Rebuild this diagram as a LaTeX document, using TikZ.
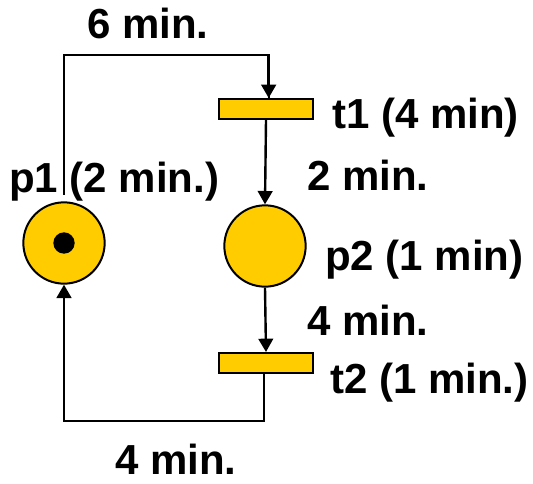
\documentclass[tikz,border=0pt]{standalone}
\usepackage{fontspec}
\setmainfont{Liberation Sans}
\usepackage{tikz}
\usetikzlibrary{arrows.meta, positioning}
\definecolor{amber}{RGB}{255,204,0}

\begin{document}
\begin{tikzpicture}[
    x=0.75pt, y=-0.75pt,
    font=\fontsize{31.5}{36}\selectfont\bfseries,
    place/.style={circle, draw=black, line width=1.5pt, fill=amber,
                  minimum size=61pt, inner sep=0pt},
    trans/.style={rectangle, draw=black, line width=1.5pt, fill=amber,
                  minimum width=70pt, minimum height=15pt, inner sep=0pt},
    token/.style={circle, fill=black, minimum size=16pt, inner sep=0pt},
    lbl/.style={anchor=base west, inner sep=0pt, text depth=0pt},
    arr/.style={-{Triangle[length=10pt, width=11pt]}, line width=1.8pt},
    wire/.style={line width=1.5pt}
  ]
    \useasboundingbox (0,0) rectangle (533,483);

    % Places and transitions
    \node[place] (p1) at (64,243) {};
    \node[token] (tok) at (64,243) {};
    \node[place] (p2) at (265,246) {};
    \node[trans] (t1) at (266,109) {};
    \node[trans] (t2) at (266,363) {};

    % Arcs
    \coordinate (top) at (160,55);
    \coordinate (bot) at (160,421);
    \draw[wire] ([yshift=5pt]p1.north) |- (top) -| ([xshift=2pt]t1.north);
    \draw[arr] ([xshift=2pt]t1.north |- top) -- ([xshift=2pt]t1.north);
    \draw[arr] (t1.south) -- (p2.north);
    \draw[arr] (p2.south) -- (t2.north);
    \draw[wire] ([xshift=-1.5pt]t2.south) |- (bot);
    \draw[arr] (bot) -| (p1.south);

    % Labels
    \node[lbl] (w1) at (87,38)   {6 min.};
    \node[lbl] (lt1) at (332,128) {t1 (4 min)};
    \node[lbl] (lp1) at (9,192)   {p1 (2 min.)};
    \node[lbl] (w2) at (307,190)  {2 min.};
    \node[lbl] (lp2) at (325,270) {p2 (1 min)};
    \node[lbl] (w3) at (307,335)  {4 min.};
    \node[lbl] (lt2) at (330,393) {t2 (1 min.)};
    \node[lbl] (w4) at (115,474)  {4 min.};
\end{tikzpicture}
\end{document}
